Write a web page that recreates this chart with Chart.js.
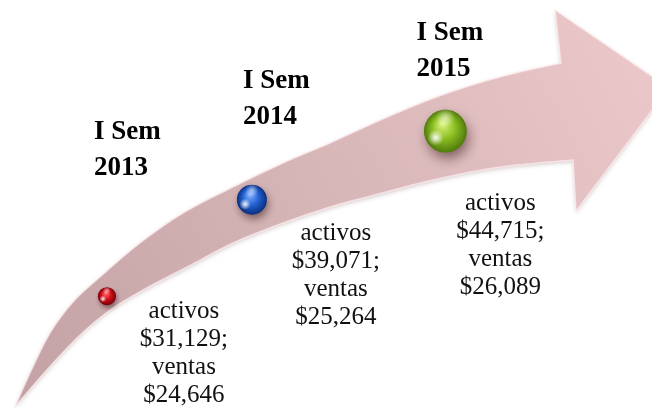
<!DOCTYPE html>
<html>
<head>
<meta charset="utf-8">
<script src="https://cdn.jsdelivr.net/npm/chart.js@4"></script>
<style>
    html, body { margin: 0; padding: 0; background: #ffffff; }
    #wrap { width: 652px; height: 408px; position: relative; }
</style>
</head>
<body>
<div id="wrap"><canvas id="timeline"></canvas></div>
<script>
// --- Data ---
const periods = [['I Sem', '2013'], ['I Sem', '2014'], ['I Sem', '2015']];
const activos = [31129, 39071, 44715];
const ventas = [24646, 25264, 26089];

// --- Styling ---
const dotRadius = [9, 15, 21.5];
const dotColors = [
    { light: '#ff7070', base: '#d4101a', dark: '#7a0008' },
    { light: '#7fb0ff', base: '#2462d2', dark: '#0b2f80' },
    { light: '#d8f27a', base: '#8cbf22', dark: '#4f7a0c' }
];
// label placement relative to each dot (px)
const titleOffset = [[-13, -157], [-9, -112], [-29, -91]];
const valueOffset = [[77, 22], [84, 40], [55, 79]];

// arrow outline in a 652x408 design box (decoration only)
const arrowUpper = [[15, 407], [31, 371], [50, 333], [73, 302], [100, 277], [140, 243], [183, 213],
    [233, 187], [283, 163], [330, 143], [385, 118], [442, 95], [500, 77], [561, 63]];
const arrowHead = [[555, 10], [669, 88], [576, 211], [573, 160]];
const arrowLower = [[573, 160], [500, 167], [433, 180], [367, 197], [330, 207], [283, 223],
    [233, 243], [187, 267], [143, 290], [110, 310], [80, 335], [45, 372], [15, 407]];

const fmt = v => v.toLocaleString('en-US');

function smoothThrough(ctx, pts, sx, sy) {
    for (let i = 0; i < pts.length - 1; i++) {
        const p0 = pts[Math.max(i - 1, 0)], p1 = pts[i], p2 = pts[i + 1], p3 = pts[Math.min(i + 2, pts.length - 1)];
        const c1x = p1[0] + (p2[0] - p0[0]) / 6, c1y = p1[1] + (p2[1] - p0[1]) / 6;
        const c2x = p2[0] - (p3[0] - p1[0]) / 6, c2y = p2[1] - (p3[1] - p1[1]) / 6;
        ctx.bezierCurveTo(sx(c1x), sy(c1y), sx(c2x), sy(c2y), sx(p2[0]), sy(p2[1]));
    }
}

const arrowPlugin = {
    id: 'arrow',
    beforeDatasetsDraw(chart) {
        const { ctx, chartArea: a } = chart;
        const sx = v => a.left + v / 652 * a.width;
        const sy = v => a.top + v / 408 * a.height;

        ctx.save();
        ctx.beginPath();
        ctx.moveTo(sx(arrowUpper[0][0]), sy(arrowUpper[0][1]));
        smoothThrough(ctx, arrowUpper, sx, sy);
        arrowHead.forEach(p => ctx.lineTo(sx(p[0]), sy(p[1])));
        smoothThrough(ctx, arrowLower, sx, sy);
        ctx.closePath();

        const grad = ctx.createLinearGradient(sx(0), sy(408), sx(652), sy(60));
        grad.addColorStop(0, '#c2a0a3');
        grad.addColorStop(0.5, '#d6b5b7');
        grad.addColorStop(1, '#ebc7c9');
        ctx.shadowColor = 'rgba(90, 50, 55, 0.25)';
        ctx.shadowBlur = 4;
        ctx.shadowOffsetY = 2;
        ctx.fillStyle = grad;
        ctx.fill();
        ctx.shadowColor = 'transparent';
        ctx.strokeStyle = 'rgba(255, 236, 238, 0.7)';
        ctx.lineWidth = 1.5;
        ctx.stroke();

        // soft shadows under the dots
        const meta = chart.getDatasetMeta(0);
        meta.data.forEach((pt, i) => {
            const r = dotRadius[i];
            ctx.save();
            ctx.shadowColor = 'rgba(40, 10, 10, 0.55)';
            ctx.shadowBlur = r * 0.6;
            ctx.shadowOffsetX = r * 0.12;
            ctx.shadowOffsetY = r * 0.3;
            ctx.fillStyle = dotColors[i].dark;
            ctx.beginPath();
            ctx.arc(pt.x, pt.y, r * 0.95, 0, Math.PI * 2);
            ctx.fill();
            ctx.restore();
        });
        ctx.restore();
    },
    afterDatasetsDraw(chart) {
        const { ctx } = chart;
        const meta = chart.getDatasetMeta(0);
        ctx.save();
        meta.data.forEach((pt, i) => {
            const r = dotRadius[i];
            // glossy highlights
            let g = ctx.createRadialGradient(pt.x - r * 0.45, pt.y + r * 0.3, 0, pt.x - r * 0.45, pt.y + r * 0.3, r * 0.38);
            g.addColorStop(0, 'rgba(255,255,255,0.95)');
            g.addColorStop(1, 'rgba(255,255,255,0)');
            ctx.fillStyle = g;
            ctx.beginPath();
            ctx.arc(pt.x - r * 0.45, pt.y + r * 0.3, r * 0.38, 0, Math.PI * 2);
            ctx.fill();
            g = ctx.createRadialGradient(pt.x, pt.y - r * 0.62, 0, pt.x, pt.y - r * 0.62, r * 0.45);
            g.addColorStop(0, 'rgba(255,255,255,0.55)');
            g.addColorStop(1, 'rgba(255,255,255,0)');
            ctx.fillStyle = g;
            ctx.beginPath();
            ctx.arc(pt.x, pt.y - r * 0.62, r * 0.45, 0, Math.PI * 2);
            ctx.fill();

            // period title
            ctx.fillStyle = '#000000';
            ctx.font = 'bold 27px "Liberation Serif", serif';
            ctx.textAlign = 'left';
            ctx.textBaseline = 'alphabetic';
            periods[i].forEach((line, k) => {
                ctx.fillText(line, pt.x + titleOffset[i][0], pt.y + titleOffset[i][1] + k * 36);
            });

            // values
            ctx.fillStyle = '#111111';
            ctx.font = '25px "Liberation Serif", serif';
            ctx.textAlign = 'center';
            const lines = ['activos', '$' + fmt(activos[i]) + ';', 'ventas', '$' + fmt(ventas[i])];
            lines.forEach((line, k) => {
                ctx.fillText(line, pt.x + valueOffset[i][0], pt.y + valueOffset[i][1] + k * 28);
            });
        });
        ctx.restore();
    }
};

function sphereFill(context) {
    const i = context.dataIndex;
    const c = dotColors[i] || dotColors[0];
    const chart = context.chart;
    const raw = context.raw;
    if (!raw || !chart.chartArea) return c.base;
    const x = chart.scales.x.getPixelForValue(raw.x);
    const y = chart.scales.y.getPixelForValue(raw.y);
    const r = dotRadius[i];
    const g = chart.ctx.createRadialGradient(x - r * 0.15, y - r * 0.35, r * 0.05, x, y, r);
    g.addColorStop(0, c.light);
    g.addColorStop(0.5, c.base);
    g.addColorStop(1, c.dark);
    return g;
}

const ctx = document.getElementById('timeline').getContext('2d');
new Chart(ctx, {
    type: 'scatter',
    data: {
        labels: periods.map(p => p.join(' ')),
        datasets: [{
            label: 'activos vs ventas',
            data: ventas.map((v, i) => ({ x: v, y: activos[i] })),
            pointRadius: c => dotRadius[c.dataIndex],
            pointHoverRadius: c => dotRadius[c.dataIndex],
            pointBackgroundColor: sphereFill,
            pointHoverBackgroundColor: sphereFill,
            pointBorderWidth: 0,
            pointHoverBorderWidth: 0,
            clip: false
        }]
    },
    options: {
        responsive: true,
        maintainAspectRatio: false,
        animation: false,
        events: [],
        layout: { padding: 0, autoPadding: false },
        plugins: {
            legend: { display: false },
            tooltip: { enabled: false }
        },
        scales: {
            x: { type: 'linear', display: false, min: 24190, max: 26970 },
            y: { type: 'linear', display: false, min: 21920, max: 55510 }
        }
    },
    plugins: [arrowPlugin]
});
</script>
</body>
</html>
